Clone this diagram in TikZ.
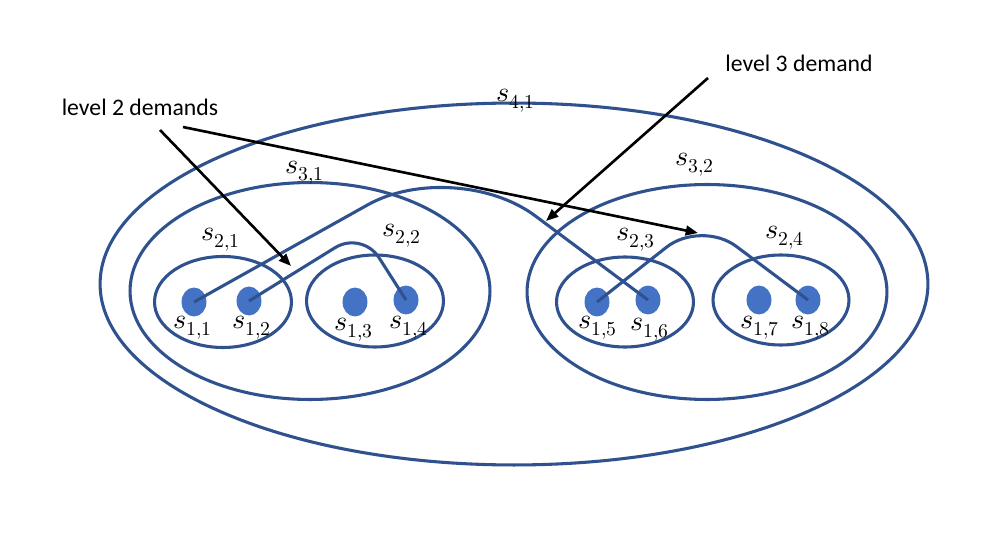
\documentclass[tikz,border=0pt]{standalone}
\usepackage{amsmath}
\usepackage{fontspec}
\usepackage{unicode-math}
\setmainfont{Carlito}
\setmathfont{Latin Modern Math}
\usepackage{tikz}
\usetikzlibrary{shapes.geometric, arrows.meta, positioning}
\definecolor{zoneblue}{HTML}{2F528F}
\definecolor{siteblue}{HTML}{4472C4}

\tikzset{
    zone/.style={ellipse, draw=zoneblue, line width=1.75pt, inner sep=0pt},
    site/.style={ellipse, fill=siteblue, draw=siteblue, line width=0.5pt,
        minimum width=0.48cm, minimum height=0.56cm, inner sep=0pt},
    demand/.style={draw=zoneblue, line width=1.75pt},
    pointer/.style={-{Triangle[length=7pt, width=5.5pt]}, line width=1.5pt},
    lab/.style={font=\fontsize{16}{18}\selectfont},
    note/.style={font=\fontsize{13.5}{16}\selectfont}
}

\begin{document}
\begin{tikzpicture}[x=0.02cm, y=0.02cm]
    \useasboundingbox[fill=white] (0,0) rectangle (995,-537);

    % Zones
    \node[zone, minimum width=16.56cm, minimum height=7.24cm] (z41) at (514,-284) {};
    \node[zone, minimum width=7.2cm, minimum height=4.34cm] (z31) at (310,-291) {};
    \node[zone, minimum width=7.2cm, minimum height=4.3cm] (z32) at (707,-292) {};
    \node[zone, minimum width=2.74cm, minimum height=1.82cm] (z21) at (223,-302) {};
    \node[zone, minimum width=2.74cm, minimum height=1.84cm] (z22) at (375,-301) {};
    \node[zone, minimum width=2.74cm, minimum height=1.8cm] (z23) at (625,-302) {};
    \node[zone, minimum width=2.72cm, minimum height=1.8cm] (z24) at (781,-300) {};

    % Zone labels
    \node[lab] (l41) at (516,-101) {$s_{4,1}$};
    \node[lab] (l31) at (305,-173) {$s_{3,1}$};
    \node[lab] (l32) at (695,-165) {$s_{3,2}$};
    \node[lab] (l21) at (221,-240) {$s_{2,1}$};
    \node[lab] (l22) at (402,-236) {$s_{2,2}$};
    \node[lab] (l23) at (636,-240) {$s_{2,3}$};
    \node[lab] (l24) at (785,-238) {$s_{2,4}$};

    % Sites
    \node[site] (s11) at (194,-302) {};
    \node[site] (s12) at (249,-301) {};
    \node[site] (s13) at (355,-302) {};
    \node[site] (s14) at (406,-300) {};
    \node[site] (s15) at (597,-302) {};
    \node[site] (s16) at (648,-300) {};
    \node[site] (s17) at (759,-300) {};
    \node[site] (s18) at (808,-300) {};

    % Site labels
    \node[lab] (t11) at (193,-328) {$s_{1,1}$};
    \node[lab] (t12) at (252,-328) {$s_{1,2}$};
    \node[lab] (t13) at (354,-330) {$s_{1,3}$};
    \node[lab] (t14) at (409,-328) {$s_{1,4}$};
    \node[lab] (t15) at (598,-328) {$s_{1,5}$};
    \node[lab] (t16) at (650,-330) {$s_{1,6}$};
    \node[lab] (t17) at (760,-328) {$s_{1,7}$};
    \node[lab] (t18) at (811,-328) {$s_{1,8}$};

    % Demands
    \coordinate (k1) at (455,-156);
    \coordinate (k2) at (362,-231);
    \coordinate (k3) at (701,-220);
    \draw[demand, rounded corners=57pt] (s11.center) -- (k1) -- (s16.center);
    \draw[demand, rounded corners=18pt] (s12.center) -- (k2) -- (s14.center);
    \draw[demand, rounded corners=25pt] (s15.center) -- (k3) -- (s18.center);

    % Notes
    \node[note] (n2) at (140,-107) {level 2 demands};
    \node[note] (n3) at (799,-63) {level 3 demand};
    \coordinate (n2a) at (160,-130);
    \coordinate (n2b) at (183,-127);
    \coordinate (n3a) at (708,-78);
    \coordinate (h2a) at (291,-266);
    \coordinate (h2b) at (698,-233);
    \coordinate (h3) at (546,-221);
    \draw[pointer] (n2a) -- (h2a);
    \draw[pointer] (n2b) -- (h2b);
    \draw[pointer] (n3a) -- (h3);
\end{tikzpicture}
\end{document}
